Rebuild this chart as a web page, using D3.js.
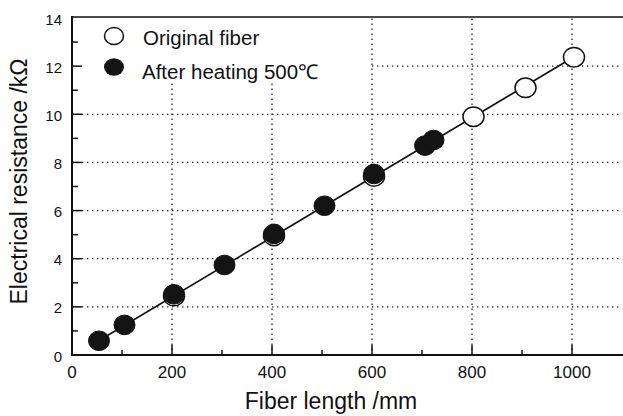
<!DOCTYPE html>
<html>
<head>
<meta charset="utf-8">
<script src="https://cdn.jsdelivr.net/npm/d3@7"></script>
<style>
  html, body { margin: 0; padding: 0; background: #fff; }
  svg { display: block; font-family: "Liberation Sans", Arial, Helvetica, sans-serif; }
</style>
</head>
<body>
<svg id="chart" width="623" height="416"></svg>
<script>
// Fiber length (mm) vs electrical resistance (kΩ)
const originalX = [204, 404, 604, 803, 907, 1004];
const originalY = [2.45, 4.95, 7.42, 9.90, 11.10, 12.37];
const heatedX = [54, 105, 204, 305, 404, 505, 604, 706, 723];
const heatedY = [0.59, 1.25, 2.52, 3.74, 5.03, 6.20, 7.52, 8.70, 8.93];
const fitX = [50, 1005];
const fitY = [0.55, 12.40];
const xTicks = [0, 200, 400, 600, 800, 1000];
const xMinorTicks = [100, 300, 500, 700, 900];
const yTicks = [0, 2, 4, 6, 8, 10, 12, 14];
const yMinorTicks = [1, 3, 5, 7, 9, 11, 13];
const legendLabels = ["Original fiber", "After heating 500\u2103"];

const svg = d3.select("#chart");
const pL = 72, pR = 622, pT = 18, pB = 355;

const x = d3.scaleLinear().domain([0, 1100]).range([pL, pR]);
const y = d3.scaleLinear().domain([0, 14]).range([pB, pT]);

// dotted grid
const grid = svg.append("g").attr("stroke", "#222").attr("stroke-width", 1.3)
  .attr("stroke-dasharray", "1.4,3.6");
grid.selectAll("line.v").data(xTicks.slice(1)).join("line")
  .attr("x1", d => x(d)).attr("x2", d => x(d))
  .attr("y1", pB).attr("y2", pT);
grid.selectAll("line.h").data(yTicks.slice(1, -1)).join("line")
  .attr("x1", pL).attr("x2", pR)
  .attr("y1", d => y(d)).attr("y2", d => y(d));

// legend backdrop hides grid behind it
svg.append("rect").attr("x", pL + 1).attr("y", pT)
  .attr("width", x(600) - pL - 2).attr("height", 65).attr("fill", "#fff");

// fit line
svg.append("line")
  .attr("x1", x(fitX[0])).attr("y1", y(fitY[0]))
  .attr("x2", x(fitX[1])).attr("y2", y(fitY[1]))
  .attr("stroke", "#111").attr("stroke-width", 1.6);

// markers
const rx = 10.5, ry = 9.8;
svg.append("g").selectAll("ellipse").data(originalX.map((v, i) => [v, originalY[i]])).join("ellipse")
  .attr("cx", d => x(d[0])).attr("cy", d => y(d[1]))
  .attr("rx", rx).attr("ry", ry)
  .attr("fill", "#fff").attr("stroke", "#111").attr("stroke-width", 1.5);
svg.append("g").selectAll("ellipse").data(heatedX.map((v, i) => [v, heatedY[i]])).join("ellipse")
  .attr("cx", d => x(d[0])).attr("cy", d => y(d[1]))
  .attr("rx", rx).attr("ry", ry)
  .attr("fill", "#141414").attr("stroke", "#111").attr("stroke-width", 1);

// axes frame
svg.append("line").attr("x1", pL).attr("x2", pR + 1).attr("y1", pT - 1).attr("y2", pT - 1)
  .attr("stroke", "#111").attr("stroke-width", 1.6);
svg.append("line").attr("x1", pL).attr("x2", pL).attr("y1", pT - 2).attr("y2", pB + 1)
  .attr("stroke", "#111").attr("stroke-width", 2);
svg.append("line").attr("x1", pL - 1).attr("x2", pR + 1).attr("y1", pB).attr("y2", pB)
  .attr("stroke", "#111").attr("stroke-width", 2);

// inward ticks
const ticks = svg.append("g").attr("stroke", "#111").attr("stroke-width", 1.5);
ticks.selectAll("line.xm").data(xTicks.slice(1)).join("line")
  .attr("x1", d => x(d)).attr("x2", d => x(d)).attr("y1", pB).attr("y2", pB - 10);
ticks.selectAll("line.xn").data(xMinorTicks).join("line")
  .attr("x1", d => x(d)).attr("x2", d => x(d)).attr("y1", pB).attr("y2", pB - 5);
ticks.selectAll("line.ym").data(yTicks.slice(1, -1)).join("line")
  .attr("x1", pL).attr("x2", pL + 10).attr("y1", d => y(d)).attr("y2", d => y(d));
ticks.selectAll("line.yn").data(yMinorTicks).join("line")
  .attr("x1", pL).attr("x2", pL + 6).attr("y1", d => y(d)).attr("y2", d => y(d));

// tick labels
svg.append("g").selectAll("text").data(xTicks).join("text")
  .attr("x", d => x(d)).attr("y", 378)
  .attr("text-anchor", "middle").attr("font-size", 17).attr("fill", "#111")
  .text(d => d);
svg.append("g").selectAll("text").data(yTicks).join("text")
  .attr("x", 62).attr("y", d => y(d) + 6.5)
  .attr("text-anchor", "end").attr("font-size", 15).attr("fill", "#111")
  .text(d => d);

// axis titles
svg.append("text").attr("x", 331).attr("y", 409)
  .attr("text-anchor", "middle").attr("font-size", 23).attr("fill", "#111")
  .text("Fiber length /mm");
svg.append("text").attr("transform", "translate(27,181.5) rotate(-90)")
  .attr("text-anchor", "middle").attr("font-size", 23).attr("fill", "#111")
  .text("Electrical resistance /k\u03A9");

// legend
const lg = svg.append("g");
lg.append("ellipse").attr("cx", 114).attr("cy", 36).attr("rx", 9.5).attr("ry", 8.5)
  .attr("fill", "#fff").attr("stroke", "#111").attr("stroke-width", 1.5);
lg.append("ellipse").attr("cx", 114).attr("cy", 67).attr("rx", 10).attr("ry", 8.8)
  .attr("fill", "#141414");
lg.append("text").attr("x", 143).attr("y", 44.5).attr("font-size", 20.5).attr("fill", "#111")
  .text(legendLabels[0]);
lg.append("text").attr("x", 142).attr("y", 79).attr("font-size", 20.5).attr("fill", "#111")
  .text(legendLabels[1]);
</script>
</body>
</html>
